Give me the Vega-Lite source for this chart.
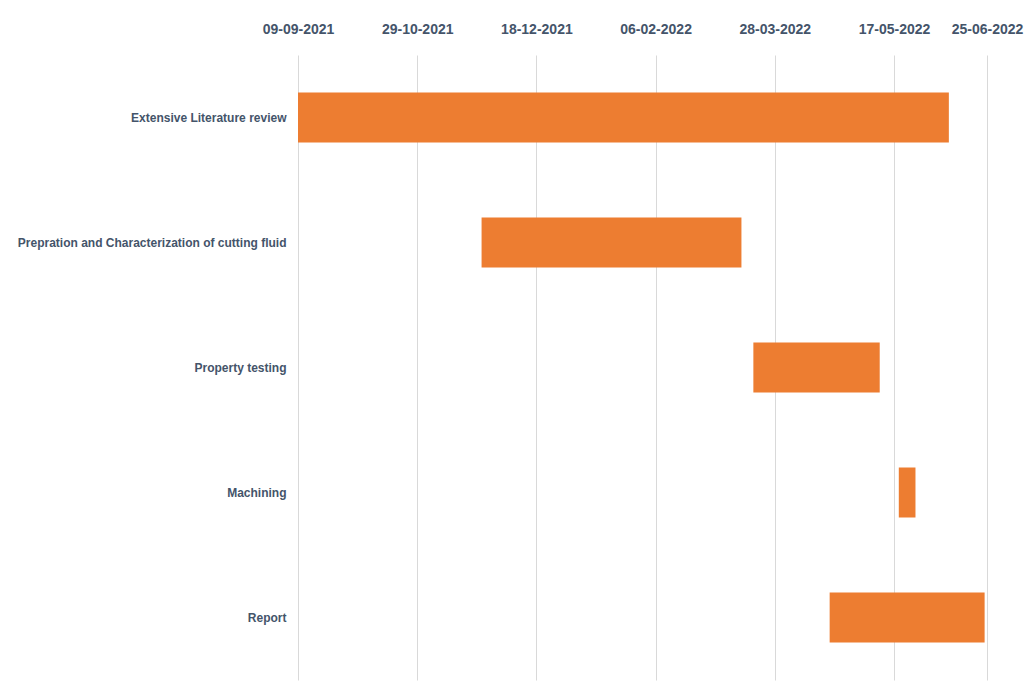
{
  "$schema": "https://vega.github.io/schema/vega-lite/v6.json",
  "width": 689,
  "height": 625,
  "autosize": "none",
  "padding": {"left": 298, "top": 55, "right": 37, "bottom": 18},
  "background": "white",
  "config": {"view": {"stroke": null}},
  "data": {
    "values": [
      {"task": "Extensive Literature review", "start": "2021-09-09", "end": "2022-06-09"},
      {"task": "Prepration and Characterization of cutting fluid", "start": "2021-11-25", "end": "2022-03-14"},
      {"task": "Property testing", "start": "2022-03-19", "end": "2022-05-11"},
      {"task": "Machining", "start": "2022-05-19", "end": "2022-05-26"},
      {"task": "Report", "start": "2022-04-20", "end": "2022-06-24"}
    ]
  },
  "mark": {"type": "bar", "color": "#ED7D31"},
  "encoding": {
    "y": {
      "field": "task",
      "type": "nominal",
      "sort": null,
      "title": null,
      "scale": {"paddingInner": 0.6, "paddingOuter": 0.3},
      "axis": {
        "domain": false,
        "ticks": false,
        "labelPadding": 12,
        "labelFont": "Liberation Sans",
        "labelFontSize": 12,
        "labelFontWeight": "bold",
        "labelColor": "#44546A",
        "labelLimit": 400
      }
    },
    "x": {
      "field": "start",
      "type": "temporal",
      "title": null,
      "scale": {
        "type": "utc",
        "domain": [
          {"year": 2021, "month": 9, "date": 9, "utc": true},
          {"year": 2022, "month": 6, "date": 25, "utc": true}
        ]
      },
      "axis": {
        "orient": "top",
        "domain": false,
        "ticks": false,
        "labelExpr": "utcFormat(datum.value, '%d-%m-%Y')",
        "values": [
          {"year": 2021, "month": 9, "date": 9, "utc": true},
          {"year": 2021, "month": 10, "date": 29, "utc": true},
          {"year": 2021, "month": 12, "date": 18, "utc": true},
          {"year": 2022, "month": 2, "date": 6, "utc": true},
          {"year": 2022, "month": 3, "date": 28, "utc": true},
          {"year": 2022, "month": 5, "date": 17, "utc": true},
          {"year": 2022, "month": 6, "date": 25, "utc": true}
        ],
        "labelFont": "Liberation Sans",
        "labelFontSize": 14,
        "labelFontWeight": "bold",
        "labelColor": "#44546A",
        "labelPadding": 19,
        "labelOverlap": false,
        "labelFlush": false,
        "grid": true,
        "gridColor": "#D9D9D9",
        "gridWidth": 1
      }
    },
    "x2": {"field": "end"}
  }
}
